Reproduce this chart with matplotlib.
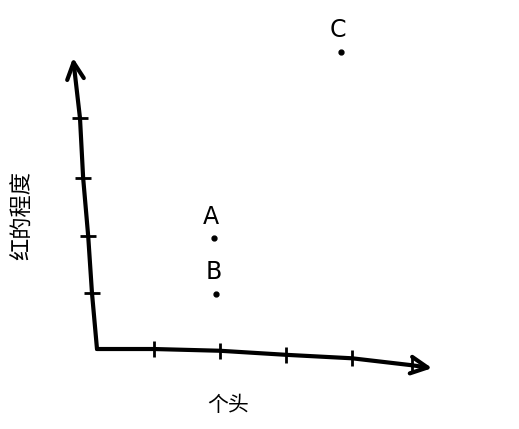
import matplotlib
matplotlib.use("Agg")
import matplotlib.pyplot as plt

plt.rcParams['font.family'] = ['Noto Sans CJK SC', 'DejaVu Sans']

# points (size, redness)
names = ["A", "B", "C"]
size_vals = [1.86, 1.89, 3.87]
red_vals = [1.91, 0.95, 5.12]

# hand drawn axes: x axis path sags a bit, y axis leans left
x_axis_x = [0, 0.9, 1.95, 3.0, 4.05, 5.0, 5.32]
x_axis_y = [0, 0.0, -0.03, -0.10, -0.16, -0.28, -0.33]
y_axis_x = [0, -0.08, -0.14, -0.22, -0.27, -0.38]
y_axis_y = [0, 0.97, 1.95, 2.95, 3.98, 5.02]

x_label = "个头"
y_label = "红的程度"

fig = plt.figure(figsize=(5.19, 4.29), dpi=100)
ax = fig.add_axes([0, 0, 1, 1])
ax.set_xlim(-1.54, 6.70)
ax.set_ylim(-1.379, 6.017)
ax.axis("off")

lw = 3.0
ax.plot(x_axis_x[:-1], x_axis_y[:-1], color="black", lw=lw, solid_capstyle="round")
ax.plot(y_axis_x[:-1], y_axis_y[:-1], color="black", lw=lw, solid_capstyle="round")
ax.annotate("", xy=(x_axis_x[-1], x_axis_y[-1]), xytext=(x_axis_x[-2], x_axis_y[-2]),
            arrowprops=dict(arrowstyle="->", lw=lw, color="black", mutation_scale=30,
                            shrinkA=0, shrinkB=0))
ax.annotate("", xy=(y_axis_x[-1], y_axis_y[-1]), xytext=(y_axis_x[-2], y_axis_y[-2]),
            arrowprops=dict(arrowstyle="->", lw=lw, color="black", mutation_scale=30,
                            shrinkA=0, shrinkB=0))

# tick marks
ax.plot(x_axis_x[1:-1], x_axis_y[1:-1], ls="none", marker="|", ms=12, mew=2, color="black")
ax.plot(y_axis_x[1:-1], y_axis_y[1:-1], ls="none", marker="_", ms=12, mew=2, color="black")

# points with letters
ax.plot(size_vals, red_vals, ls="none", marker="o", ms=3.5, color="black")
for n, sx, ry in zip(names, size_vals, red_vals):
    ax.annotate(n, (sx, ry), xytext=(-2, 7), textcoords="offset points",
                ha="center", va="bottom", fontsize=17, family="DejaVu Sans")

ax.text(2.08, -0.97, x_label, ha="center", va="center", fontsize=15)
ax.text(-1.19, 2.31, y_label, ha="center", va="center", fontsize=16, rotation=90)

fig.savefig("out.png", dpi=100)
